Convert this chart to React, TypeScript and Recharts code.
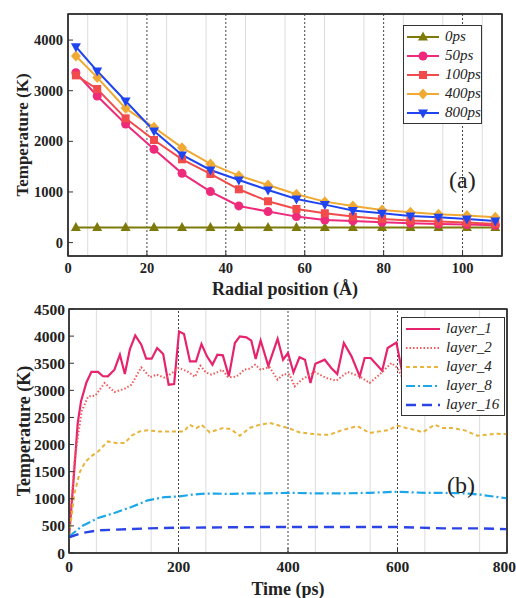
import React from 'react';
import { LineChart, Line, XAxis, YAxis, CartesianGrid, ReferenceLine, ReferenceArea, Legend } from 'recharts';

const FONT = '"Liberation Serif", "Times New Roman", serif';
const AXIS = '#333';

// (a) temperature vs radial position
const radialPos = [2.0, 7.4, 14.6, 21.8, 28.9, 36.1, 43.3, 50.7, 57.9, 65.1, 72.2, 79.6, 86.8, 93.9, 101.1, 108.3];
const temp0ps = [300, 300, 300, 300, 300, 300, 300, 300, 300, 300, 300, 300, 300, 300, 300, 300];
const temp50ps = [3355, 2895, 2342, 1842, 1368, 1007, 724, 612, 513, 447, 428, 401, 382, 368, 355, 342];
const temp100ps = [3303, 3033, 2454, 2026, 1645, 1355, 1053, 816, 664, 579, 513, 467, 434, 414, 395, 368];
const temp400ps = [3684, 3263, 2651, 2276, 1875, 1553, 1322, 1138, 954, 809, 724, 645, 599, 559, 533, 500];
const temp800ps = [3868, 3388, 2796, 2204, 1730, 1434, 1237, 1039, 862, 750, 632, 579, 526, 500, 467, 428];

const topXTicks = [0, 20, 40, 60, 80, 100];
const topXMinor = [10, 30, 50, 70, 90];
const topYTicks = [0, 1000, 2000, 3000, 4000];
const topYMinor = [500, 1500, 2500, 3500];
const topGrid = [5, 10, 15, 25, 30, 35, 45, 50, 55, 65, 70, 75, 85, 90, 95, 105];
const topDotted = [20, 40, 60, 80, 100];

// (b) temperature vs time for each layer
const layer1T = [0, 8, 16, 22, 32, 41, 53, 62, 71, 83, 93, 102, 111, 121, 132, 141, 151, 161, 172, 182, 192, 201, 210, 221, 232, 242, 252, 262, 271, 281, 292, 303, 312, 324, 333, 341, 350, 364, 381, 391, 400, 410, 421, 431, 441, 450, 467, 479, 490, 502, 516, 531, 540, 551, 572, 582, 598, 610];
const layer1V = [300, 1300, 2400, 2800, 3150, 3340, 3340, 3260, 3258, 3380, 3657, 3300, 3750, 4013, 3842, 3584, 3584, 3781, 3670, 3104, 3117, 4087, 4040, 3534, 3534, 3854, 3627, 3473, 3657, 3645, 3258, 3873, 3996, 3978, 3916, 3580, 3920, 3450, 3950, 3565, 3688, 3330, 3610, 3565, 3135, 3490, 3565, 3412, 3301, 3873, 3627, 3258, 3596, 3596, 3363, 3780, 3880, 3258];
const layer2T = [0, 10, 23, 35, 48, 65, 83, 102, 114, 132, 148, 160, 176, 188, 200, 216, 230, 240, 250, 260, 270, 280, 290, 300, 310, 320, 330, 340, 350, 366, 381, 392, 403, 412, 425, 449, 470, 488, 509, 531, 549, 567, 589, 600, 609];
const layer2V = [300, 1700, 2612, 2888, 2900, 3135, 2970, 3030, 3104, 3424, 3240, 3290, 3227, 3320, 3412, 3350, 3250, 3454, 3330, 3290, 3330, 3380, 3250, 3240, 3280, 3380, 3400, 3473, 3380, 3430, 3197, 3300, 3290, 3073, 3197, 3338, 3227, 3178, 3338, 3258, 3135, 3290, 3504, 3412, 3227];
const layer4T = [0, 5, 10, 20, 30, 40, 53, 71, 86, 102, 114, 129, 144, 162, 199, 210, 220, 233, 242, 257, 281, 295, 312, 330, 348, 367, 385, 400, 421, 440, 461, 476, 498, 513, 527, 549, 567, 582, 600, 616, 631, 646, 668, 683, 701, 723, 746, 765, 783, 800];
const layer4V = [330, 700, 1100, 1500, 1680, 1780, 1870, 2058, 2028, 2028, 2163, 2243, 2262, 2243, 2243, 2240, 2366, 2305, 2366, 2225, 2305, 2287, 2163, 2305, 2366, 2397, 2348, 2305, 2225, 2200, 2182, 2182, 2262, 2305, 2340, 2213, 2243, 2262, 2348, 2305, 2274, 2225, 2366, 2305, 2305, 2262, 2163, 2182, 2200, 2190];
const layer8T = [0, 23, 53, 83, 114, 144, 175, 202, 224, 248, 266, 300, 330, 360, 400, 450, 500, 550, 600, 650, 705, 730, 751, 787, 800];
const layer8V = [300, 492, 646, 738, 848, 971, 1032, 1044, 1075, 1094, 1094, 1090, 1100, 1100, 1110, 1100, 1100, 1110, 1130, 1110, 1106, 1094, 1075, 1026, 1010];
const layer16T = [0, 23, 53, 83, 114, 144, 202, 250, 300, 350, 400, 500, 600, 685, 710, 751, 787, 800];
const layer16V = [290, 369, 418, 430, 442, 455, 467, 470, 475, 479, 479, 479, 479, 455, 455, 455, 442, 440];

const botXTicks = [0, 200, 400, 600, 800];
const botXMinor = [100, 300, 500, 700];
const botYTicks = [0, 500, 1000, 1500, 2000, 2500, 3000, 3500, 4000, 4500];
const botYMinor = [100, 200, 300, 400, 600, 700, 800, 900, 1100, 1200, 1300, 1400, 1600, 1700, 1800, 1900, 2100, 2200, 2300, 2400, 2600, 2700, 2800, 2900, 3100, 3200, 3300, 3400, 3600, 3700, 3800, 3900, 4100, 4200, 4300, 4400];
const botGrid = [50, 100, 150, 250, 300, 350, 450, 500, 550, 650, 700, 750];
const botDotted = [200, 400, 600];

const topData = radialPos.map((x, i) => ({
  x,
  p0: temp0ps[i],
  p50: temp50ps[i],
  p100: temp100ps[i],
  p400: temp400ps[i],
  p800: temp800ps[i],
}));

const topSeries = [
  { key: 'p0', name: '0ps', color: '#7d7a0a', shape: 'triUp' },
  { key: 'p50', name: '50ps', color: '#ee2a7b', shape: 'circle' },
  { key: 'p100', name: '100ps', color: '#f24b4b', shape: 'square' },
  { key: 'p400', name: '400ps', color: '#f0aa33', shape: 'diamond' },
  { key: 'p800', name: '800ps', color: '#1f45f0', shape: 'triDown' },
];

const toPoints = (ts: number[], vs: number[]) => ts.map((t, i) => ({ t, v: vs[i] }));

const layers = [
  { name: 'layer_1', data: toPoints(layer1T, layer1V), color: '#e6246e', dash: undefined, width: 2.2 },
  { name: 'layer_2', data: toPoints(layer2T, layer2V), color: '#f05a5a', dash: '1.5 2', width: 2 },
  { name: 'layer_4', data: toPoints(layer4T, layer4V), color: '#e8b43a', dash: '4 3', width: 2 },
  { name: 'layer_8', data: toPoints(layer8T, layer8V), color: '#1ea7e8', dash: '9 3 2 3', width: 2.2 },
  { name: 'layer_16', data: toPoints(layer16T, layer16V), color: '#2b44e6', dash: '10 6', width: 2.4 },
];

function drawMarker(shape: string, cx: number, cy: number, color: string, key?: string) {
  switch (shape) {
    case 'triUp':
      return <polygon key={key} points={`${cx},${cy - 5.5} ${cx - 5},${cy + 3.5} ${cx + 5},${cy + 3.5}`} fill={color} />;
    case 'triDown':
      return <polygon key={key} points={`${cx},${cy + 5.5} ${cx - 5},${cy - 3.5} ${cx + 5},${cy - 3.5}`} fill={color} />;
    case 'square':
      return <rect key={key} x={cx - 4} y={cy - 4} width={8} height={8} fill={color} />;
    case 'diamond':
      return <polygon key={key} points={`${cx},${cy - 5.5} ${cx + 5},${cy} ${cx},${cy + 5.5} ${cx - 5},${cy}`} fill={color} />;
    default:
      return <circle key={key} cx={cx} cy={cy} r={4.5} fill={color} />;
  }
}

const markerDot = (shape: string, color: string) => (props: any) => {
  const { cx, cy, index } = props;
  if (cx == null || cy == null) return <g key={`e-${index}`} />;
  return drawMarker(shape, cx, cy, color, `m-${shape}-${index}`);
};

const tickStyle = (size: number) => ({ fill: '#222', fontSize: size, fontWeight: 700, fontFamily: FONT });

function TopLegend() {
  return (
    <div style={{ border: '1px solid #333', background: '#fff', width: 77, padding: '1px 0', fontFamily: FONT }}>
      {topSeries.map((s) => (
        <div key={s.key} style={{ display: 'flex', alignItems: 'center', height: 19 }}>
          <svg width={36} height={14} style={{ marginLeft: 1 }}>
            <line x1={2} y1={7} x2={34} y2={7} stroke={s.color} strokeWidth={2} />
            {drawMarker(s.shape, 18, 7, s.color)}
          </svg>
          <span style={{ fontStyle: 'italic', fontSize: 15, marginLeft: 4, color: '#222' }}>{s.name}</span>
        </div>
      ))}
    </div>
  );
}

function BottomLegend() {
  return (
    <div style={{ border: '1px solid #333', background: '#fff', width: 102, padding: '1px 0', fontFamily: FONT }}>
      {layers.map((s) => (
        <div key={s.name} style={{ display: 'flex', alignItems: 'center', height: 19 }}>
          <svg width={40} height={10} style={{ marginLeft: 1 }}>
            <line x1={3} y1={5} x2={37} y2={5} stroke={s.color} strokeWidth={s.width} strokeDasharray={s.dash} />
          </svg>
          <span style={{ fontStyle: 'italic', fontSize: 15, marginLeft: 3, color: '#222' }}>{s.name}</span>
        </div>
      ))}
    </div>
  );
}

const TOP_X: [number, number] = [0, 110];
const TOP_Y: [number, number] = [-265, 4515];
const BOT_X: [number, number] = [0, 800];
const BOT_Y: [number, number] = [0, 4500];

// inward tick marks on the frame (mirror axes carry only tick lines)
const mirrorX = (id: string, orientation: 'top' | 'bottom', domain: [number, number], ticks: number[], size: number, line: boolean) => (
  <XAxis
    key={id}
    xAxisId={id}
    orientation={orientation}
    mirror
    height={1}
    type="number"
    domain={domain}
    allowDataOverflow
    ticks={ticks}
    tick={false}
    tickSize={size}
    axisLine={line ? { stroke: AXIS, strokeWidth: 1.5 } : false}
    tickLine={{ stroke: AXIS }}
  />
);
const mirrorY = (id: string, orientation: 'left' | 'right', domain: [number, number], ticks: number[], size: number, line: boolean) => (
  <YAxis
    key={id}
    yAxisId={id}
    orientation={orientation}
    mirror
    width={1}
    type="number"
    domain={domain}
    allowDataOverflow
    ticks={ticks}
    tick={false}
    tickSize={size}
    axisLine={line ? { stroke: AXIS, strokeWidth: 1.5 } : false}
    tickLine={{ stroke: AXIS }}
  />
);

export default function App() {
  return (
    <div style={{ position: 'fixed', left: 0, top: 0, width: 516, height: 598, background: '#fff', overflow: 'hidden' }}>
      <div style={{ position: 'absolute', left: 0, top: 0 }}>
        <LineChart width={516} height={302} data={topData} margin={{ top: 14, right: 14, left: 0, bottom: 0 }}>
          <CartesianGrid horizontal={false} verticalValues={topGrid} stroke="#dcdcdc" />
          {topDotted.map((v) => (
            <ReferenceLine key={v} x={v} stroke="#444" strokeDasharray="2 2" strokeWidth={1} />
          ))}
          {mirrorX('minB', 'bottom', TOP_X, topXMinor, 3, false)}
          {mirrorX('topMaj', 'top', TOP_X, topXTicks, 5, true)}
          {mirrorX('topMin', 'top', TOP_X, topXMinor, 3, false)}
          <XAxis
            dataKey="x"
            type="number"
            domain={TOP_X}
            allowDataOverflow
            ticks={topXTicks}
            height={46}
            tickSize={-5}
            tickMargin={12}
            tick={tickStyle(14.5)}
            axisLine={{ stroke: AXIS, strokeWidth: 1.5 }}
            tickLine={{ stroke: AXIS }}
            label={{ value: 'Radial position (Å)', position: 'insideBottom', offset: 7, fontSize: 18, fontWeight: 700, fill: '#222', fontFamily: FONT }}
          />
          {mirrorY('lmin', 'left', TOP_Y, topYMinor, 3, false)}
          {mirrorY('rmaj', 'right', TOP_Y, topYTicks, 5, true)}
          {mirrorY('rmin', 'right', TOP_Y, topYMinor, 3, false)}
          <YAxis
            type="number"
            domain={TOP_Y}
            allowDataOverflow
            ticks={topYTicks}
            width={68}
            tickSize={-5}
            tickMargin={10}
            tick={tickStyle(14.5)}
            axisLine={{ stroke: AXIS, strokeWidth: 1.5 }}
            tickLine={{ stroke: AXIS }}
            label={{ value: 'Temperature (K)', angle: -90, position: 'center', dx: -12, fontSize: 17, fontWeight: 700, fill: '#222', fontFamily: FONT }}
          />
          <ReferenceArea x1={TOP_X[0]} x2={TOP_X[1]} y1={TOP_Y[0]} y2={TOP_Y[1]} ifOverflow="visible" fill="none" fillOpacity={0} stroke={AXIS} strokeWidth={1.5} />
          {topSeries.map((s) => (
            <Line
              key={s.key}
              type="linear"
              dataKey={s.key}
              name={s.name}
              stroke={s.color}
              strokeWidth={2}
              dot={markerDot(s.shape, s.color)}
              activeDot={false}
              isAnimationActive={false}
            />
          ))}
          <Legend layout="vertical" align="center" verticalAlign="middle" wrapperStyle={{ left: 403, top: 25, width: 79 }} content={() => <TopLegend />} />
        </LineChart>
      </div>
      <div style={{ position: 'absolute', left: 0, top: 296 }}>
        <LineChart width={516} height={302} margin={{ top: 13, right: 9, left: 0, bottom: 0 }}>
          <CartesianGrid horizontal={false} verticalValues={botGrid} stroke="#dcdcdc" />
          {botDotted.map((v) => (
            <ReferenceLine key={v} x={v} stroke="#444" strokeDasharray="2 2" strokeWidth={1} />
          ))}
          {mirrorX('minB', 'bottom', BOT_X, botXMinor, 3, false)}
          {mirrorX('topMaj', 'top', BOT_X, botXTicks, 5, true)}
          {mirrorX('topMin', 'top', BOT_X, botXMinor, 3, false)}
          <XAxis
            dataKey="t"
            type="number"
            domain={BOT_X}
            allowDataOverflow
            ticks={botXTicks}
            height={45}
            tickSize={-5}
            tickMargin={13}
            tick={tickStyle(15.5)}
            axisLine={{ stroke: AXIS, strokeWidth: 1.5 }}
            tickLine={{ stroke: AXIS }}
            label={{ value: 'Time (ps)', position: 'insideBottom', offset: 3, fontSize: 18, fontWeight: 700, fill: '#222', fontFamily: FONT }}
          />
          {mirrorY('lmin', 'left', BOT_Y, botYMinor, 3, false)}
          {mirrorY('rmaj', 'right', BOT_Y, botYTicks, 5, true)}
          {mirrorY('rmin', 'right', BOT_Y, botYMinor, 3, false)}
          <YAxis
            type="number"
            domain={BOT_Y}
            allowDataOverflow
            ticks={botYTicks}
            width={69}
            tickSize={-5}
            tickMargin={9}
            tick={tickStyle(15.5)}
            axisLine={{ stroke: AXIS, strokeWidth: 1.5 }}
            tickLine={{ stroke: AXIS }}
            label={{ value: 'Temperature (K)', angle: -90, position: 'center', dx: -10.5, fontSize: 18, fontWeight: 700, fill: '#222', fontFamily: FONT }}
          />
          <ReferenceArea x1={BOT_X[0]} x2={BOT_X[1]} y1={BOT_Y[0]} y2={BOT_Y[1]} ifOverflow="visible" fill="none" fillOpacity={0} stroke={AXIS} strokeWidth={1.5} />
          {layers.map((s) => (
            <Line
              key={s.name}
              type="linear"
              data={s.data}
              dataKey="v"
              name={s.name}
              stroke={s.color}
              strokeWidth={s.width}
              strokeDasharray={s.dash}
              dot={false}
              activeDot={false}
              isAnimationActive={false}
            />
          ))}
          <Legend layout="vertical" align="center" verticalAlign="middle" wrapperStyle={{ left: 401, top: 21, width: 104 }} content={() => <BottomLegend />} />
        </LineChart>
      </div>
      <div style={{ position: 'absolute', left: 449, top: 166, fontFamily: FONT, fontSize: 24, lineHeight: '28px', color: '#222' }}>(a)</div>
      <div style={{ position: 'absolute', left: 447, top: 471, fontFamily: FONT, fontSize: 24, lineHeight: '28px', color: '#222' }}>(b)</div>
    </div>
  );
}
